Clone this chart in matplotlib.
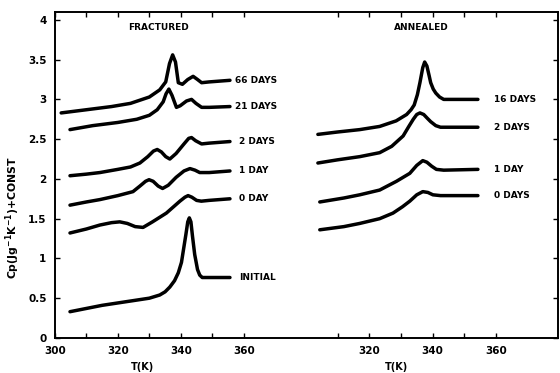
import numpy as np
import matplotlib
matplotlib.use("Agg")
import matplotlib.pyplot as plt

# ---- fractured samples (left panel), T in K, Cp + const ----
frac_initial_T = [304.8, 315, 325, 330, 333.3, 335, 336.5, 338, 339.2, 340.2, 341, 341.6, 342.2, 342.7, 343.2, 343.7, 344.4, 345.3, 346, 346.8, 350, 355.6]
frac_initial_y = [0.33, 0.41, 0.47, 0.50, 0.54, 0.58, 0.64, 0.72, 0.82, 0.95, 1.15, 1.30, 1.46, 1.51, 1.46, 1.28, 1.05, 0.86, 0.79, 0.76, 0.76, 0.76]

frac_0d_T = [304.8, 310, 314.3, 318, 320.6, 323, 325.5, 328, 331, 335.4, 339.7, 341.3, 342.3, 343.5, 345, 346.5, 349, 355.6]
frac_0d_y = [1.32, 1.37, 1.42, 1.45, 1.46, 1.44, 1.40, 1.39, 1.46, 1.57, 1.72, 1.77, 1.79, 1.77, 1.73, 1.72, 1.73, 1.75]

frac_1d_T = [304.8, 310, 314.3, 320, 324.8, 327, 328.8, 329.9, 331.2, 332.8, 334.2, 336, 338.5, 341, 342.9, 344.5, 346, 349, 355.6]
frac_1d_y = [1.67, 1.71, 1.74, 1.79, 1.84, 1.91, 1.97, 1.99, 1.97, 1.91, 1.88, 1.92, 2.02, 2.10, 2.13, 2.11, 2.08, 2.08, 2.10]

frac_2d_T = [304.8, 310, 314.3, 320, 324, 327, 329.5, 331.3, 332.5, 333.8, 335.2, 336.5, 338.5, 341, 342.5, 343.4, 344.7, 346.6, 349, 355.6]
frac_2d_y = [2.04, 2.06, 2.08, 2.12, 2.15, 2.20, 2.28, 2.35, 2.37, 2.34, 2.28, 2.25, 2.32, 2.44, 2.51, 2.52, 2.48, 2.44, 2.45, 2.47]

frac_21d_T = [304.8, 312, 320, 326, 330, 332.5, 334.4, 335.3, 336.2, 337.2, 338.6, 339.8, 341.8, 343.4, 344.8, 346.6, 349, 355.6]
frac_21d_y = [2.62, 2.67, 2.71, 2.75, 2.80, 2.87, 2.97, 3.07, 3.13, 3.05, 2.90, 2.92, 2.98, 3.00, 2.95, 2.90, 2.90, 2.91]

frac_66d_T = [302, 310, 318, 324, 330, 333.3, 335.2, 336.4, 337.4, 338.3, 339.2, 340.5, 342.2, 343.9, 345.3, 346.6, 349, 355.6]
frac_66d_y = [2.83, 2.87, 2.91, 2.95, 3.03, 3.12, 3.22, 3.45, 3.56, 3.47, 3.21, 3.19, 3.25, 3.29, 3.25, 3.21, 3.22, 3.24]

# ---- annealed samples (right panel) ----
ann_0d_T = [304.4, 312, 317, 323.3, 327.5, 330.5, 332.8, 335, 336.9, 338.5, 340.1, 342.5, 345, 354.3]
ann_0d_y = [1.36, 1.40, 1.44, 1.50, 1.57, 1.65, 1.72, 1.80, 1.84, 1.83, 1.80, 1.79, 1.79, 1.79]

ann_1d_T = [304.4, 312, 317, 323.3, 328.6, 332.8, 335, 336.9, 338.2, 339.7, 341.2, 343.5, 354.3]
ann_1d_y = [1.71, 1.76, 1.80, 1.86, 1.97, 2.07, 2.17, 2.23, 2.21, 2.16, 2.12, 2.11, 2.12]

ann_2d_T = [303.8, 310, 317, 323.3, 327.1, 330.7, 332.5, 333.9, 335, 336, 337.2, 338.4, 339.4, 341, 342.5, 354.3]
ann_2d_y = [2.20, 2.24, 2.28, 2.33, 2.41, 2.54, 2.66, 2.75, 2.81, 2.83, 2.81, 2.76, 2.72, 2.67, 2.65, 2.65]

ann_16d_T = [303.8, 310, 317, 323.3, 328.5, 331.8, 333.2, 334.2, 335.2, 336, 336.9, 337.5, 338.2, 338.9, 339.4, 340.2, 341, 342.2, 343.5, 354.3]
ann_16d_y = [2.56, 2.59, 2.62, 2.66, 2.73, 2.81, 2.87, 2.93, 3.06, 3.21, 3.40, 3.47, 3.42, 3.30, 3.21, 3.13, 3.08, 3.03, 3.00, 3.00]

frac_labels = ["INITIAL", "0 DAY", "1 DAY", "2 DAYS", "21 DAYS", "66 DAYS"]
ann_labels = ["0 DAYS", "1 DAY", "2 DAYS", "16 DAYS"]

frac = [(frac_initial_T, frac_initial_y), (frac_0d_T, frac_0d_y), (frac_1d_T, frac_1d_y),
        (frac_2d_T, frac_2d_y), (frac_21d_T, frac_21d_y), (frac_66d_T, frac_66d_y)]
ann = [(ann_0d_T, ann_0d_y), (ann_1d_T, ann_1d_y), (ann_2d_T, ann_2d_y), (ann_16d_T, ann_16d_y)]

plt.rcParams['font.family'] = 'DejaVu Sans'
plt.rcParams['font.weight'] = 'bold'

fig = plt.figure(figsize=(5.6, 3.73), dpi=100)
pos = [0.098, 0.094, 0.898, 0.874]
ax = fig.add_axes(pos)
ax2 = fig.add_axes(pos, facecolor='none')

ax.set_xlim(300, 459.7)
ax.set_ylim(0, 4.1)
ax2.set_xlim(220.8, 379.5)
ax2.set_ylim(0, 4.1)

lw = 2.5
for i, ((T, y), lab) in enumerate(zip(frac, frac_labels)):
    ax.plot(T, y, color='black', lw=lw, solid_joinstyle='round', solid_capstyle='round')
    gap = 1.6 if i >= 4 else 2.8
    ax.text(T[-1] + gap, y[-1], lab, fontsize=6.5, fontweight='bold', va='center', ha='left')
for (T, y), lab in zip(ann, ann_labels):
    ax2.plot(T, y, color='black', lw=lw, solid_joinstyle='round', solid_capstyle='round')
    ax2.text(T[-1] + 5, y[-1], lab, fontsize=6.5, fontweight='bold', va='center', ha='left')

ax.text(333, 3.9, "FRACTURED", fontsize=6.5, fontweight='bold', ha='center', va='center')
ax2.text(336.5, 3.9, "ANNEALED", fontsize=6.5, fontweight='bold', ha='center', va='center')

# ticks
ax.set_xticks([300, 310, 320, 330, 340, 350, 360])
ax.set_xticklabels(["300", "", "320", "", "340", "", "360"])
ax.set_yticks([0, 0.5, 1, 1.5, 2, 2.5, 3, 3.5, 4])
ax.set_yticklabels(["0", "0.5", "1", "1.5", "2", "2.5", "3", "3.5", "4"])
ax.tick_params(direction='in', length=3.5, width=1, labelsize=7.5, top=True, right=True, pad=6)
for lbl in ax.get_xticklabels() + ax.get_yticklabels():
    lbl.set_fontweight('bold')

ax2.set_xticks([310, 320, 330, 340, 350, 360])
ax2.set_xticklabels(["", "320", "", "340", "", "360"])
ax2.set_yticks([])
ax2.tick_params(direction='in', length=3.5, width=1, labelsize=7.5, top=True, pad=6)
for lbl in ax2.get_xticklabels():
    lbl.set_fontweight('bold')
for s in ax2.spines.values():
    s.set_visible(False)
for s in ax.spines.values():
    s.set_linewidth(1.4)

ax.set_xlabel("T(K)", fontsize=7, fontweight='bold', labelpad=2)
ax.xaxis.set_label_coords(0.175, -0.075)
ax2.set_xlabel("T(K)", fontsize=7, fontweight='bold', labelpad=2)
ax2.xaxis.set_label_coords(0.68, -0.075)
ax.set_ylabel("Cp(Jg$^{-1}$K$^{-1}$)+CONST", fontsize=7.8, fontweight='bold')
ax.yaxis.set_label_coords(-0.066, 0.37)

fig.savefig("out.png", dpi=100)
